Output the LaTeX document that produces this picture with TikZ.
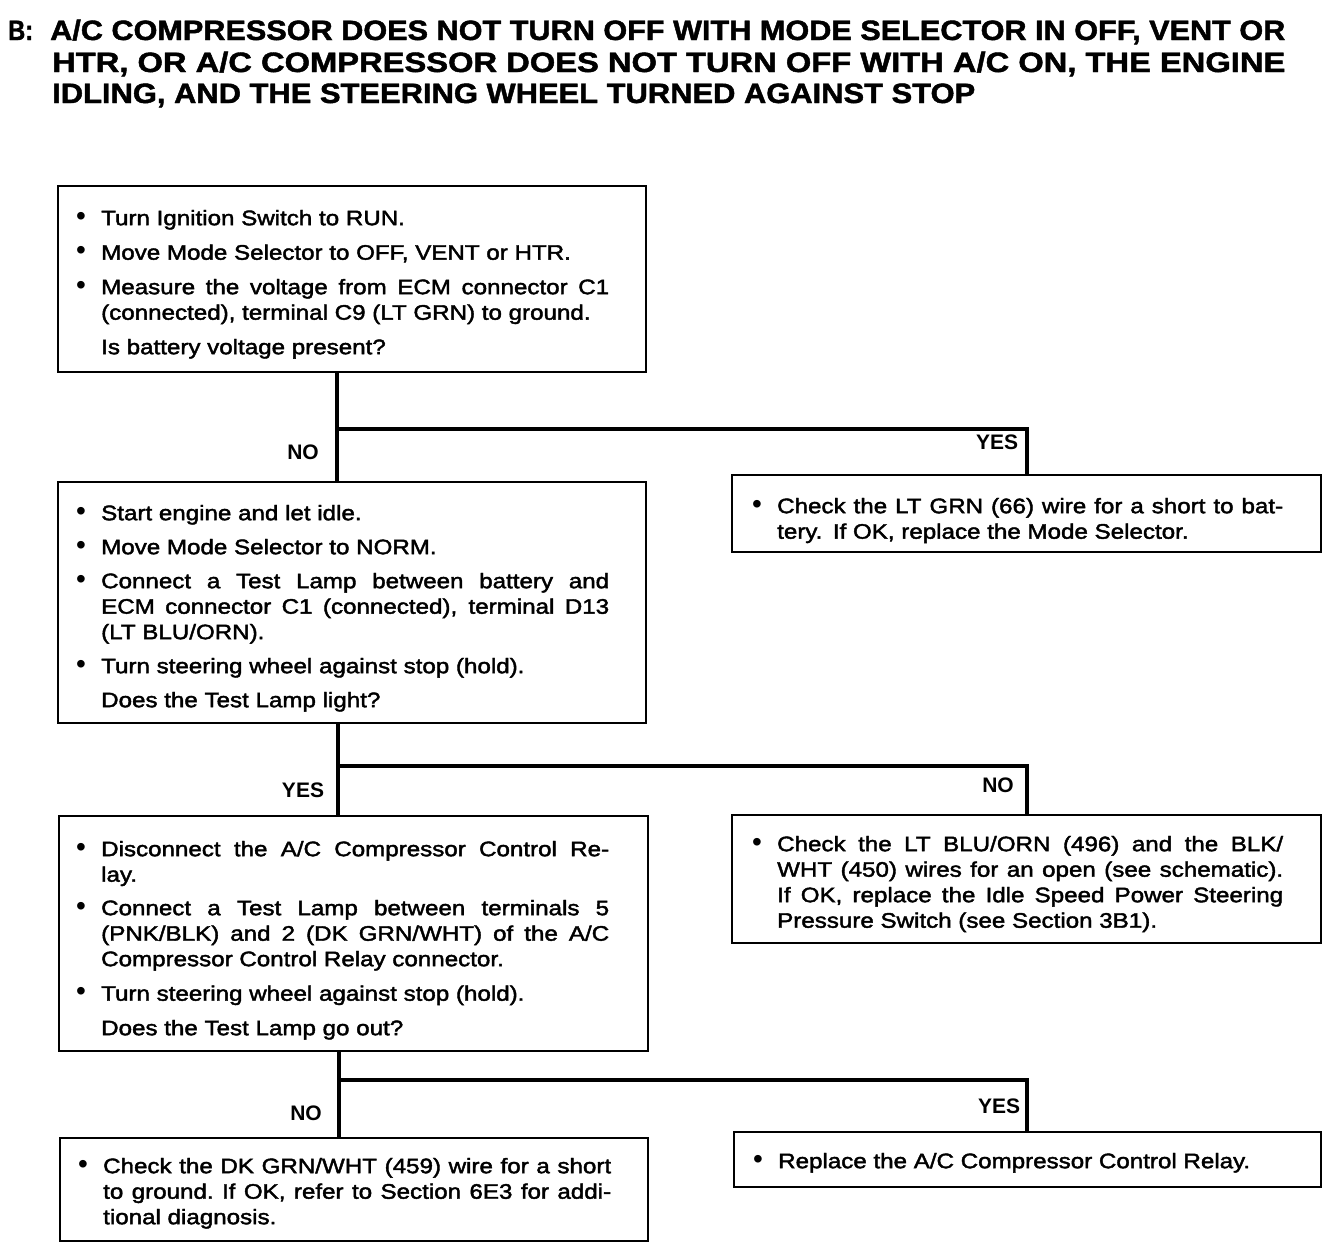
\documentclass[tikz,border=0pt]{standalone}
\usepackage{fontspec}
\usepackage{graphicx}
\setmainfont{Liberation Sans}
\newfontfamily\bodyfont{Liberation Sans}[FakeStretch=1.15,FakeBold=2]
\newfontfamily\titlefont{Liberation Sans Bold}[FakeBold=1.5]
\newfontfamily\labelfont{Liberation Sans Bold}
\newcommand\tline[2]{\resizebox{#1}{\height}{#2}}
\newcommand\bl{\rule{0pt}{16pt}\makebox[25pt][l]{{\normalfont\fontsize{28}{25}\selectfont\textbullet}}}
\newcommand\cl{\hspace*{25pt}}
\newcommand\jl[2]{\makebox[#1][s]{#2}}
\tikzset{
  titletext/.style={anchor=base west, inner sep=0pt, font=\titlefont\fontsize{28}{32}\selectfont},
  box/.style={draw, line width=2pt, anchor=north west, inner sep=0pt},
  txt/.style={anchor=north west, inner sep=0pt, align=left, font=\bodyfont\fontsize{21}{25.5}\selectfont},
  lbl/.style={inner sep=0pt, font=\labelfont\fontsize{21}{25}\selectfont},
  conn/.style={line width=4pt, line join=miter}
}
\begin{document}
\begin{tikzpicture}[x=1pt,y=-1pt]
\useasboundingbox (0,0) rectangle (1344,1250);
% title
\node[titletext] (tB) at (8,40) {\tline{25pt}{B:}};
\node[titletext] (tl1) at (50,40) {\tline{1235pt}{A/C COMPRESSOR DOES NOT TURN OFF WITH MODE SELECTOR IN OFF, VENT OR}};
\node[titletext] (tl2) at (52,72) {\tline{1233pt}{HTR, OR A/C COMPRESSOR DOES NOT TURN OFF WITH A/C ON, THE ENGINE}};
\node[titletext] (tl3) at (52,103) {\tline{923pt}{IDLING, AND THE STEERING WHEEL TURNED AGAINST STOP}};
% boxes
\node[box, minimum width=588pt, minimum height=186pt] (b1) at (57,185) {};
\node[box, minimum width=588pt, minimum height=241pt] (b2) at (57,481) {};
\node[box, minimum width=589pt, minimum height=77pt] (b3) at (731,474) {};
\node[box, minimum width=589pt, minimum height=128pt] (b4) at (731,814) {};
\node[box, minimum width=589pt, minimum height=235pt] (b5) at (58,815) {};
\node[box, minimum width=587pt, minimum height=55pt] (b6) at (733,1131) {};
\node[box, minimum width=588pt, minimum height=103pt] (b7) at (59,1137) {};
% texts
\node[txt] (x1) at (76,209) {%
\bl Turn Ignition Switch to RUN.\\[9pt]
\bl Move Mode Selector to OFF, VENT or HTR.\\[9pt]
\bl\jl{508pt}{Measure the voltage from ECM connector C1}\\
\cl (connected), terminal C9 (LT GRN) to ground.\\[9pt]
\cl Is battery voltage present?};
\node[txt] (x2) at (76,504) {%
\bl Start engine and let idle.\\[8.5pt]
\bl Move Mode Selector to NORM.\\[8.5pt]
\bl\jl{508pt}{Connect a Test Lamp between battery and}\\
\cl\jl{508pt}{ECM connector C1 (connected), terminal D13}\\
\cl (LT BLU/ORN).\\[8.5pt]
\bl Turn steering wheel against stop (hold).\\[8.5pt]
\cl Does the Test Lamp light?};
\node[txt] (x3) at (752,497) {%
\bl\jl{506pt}{Check the LT GRN (66) wire for a short to bat-}\\
\cl tery.\enspace If OK, replace the Mode Selector.};
\node[txt] (x4) at (752,835) {%
\bl\jl{506pt}{Check the LT BLU/ORN (496) and the BLK/}\\
\cl\jl{506pt}{WHT (450) wires for an open (see schematic).}\\
\cl\jl{506pt}{If OK, replace the Idle Speed Power Steering}\\
\cl Pressure Switch (see Section 3B1).};
\node[txt] (x5) at (76,840) {%
\bl\jl{508pt}{Disconnect the A/C Compressor Control Re-}\\
\cl lay.\\[8pt]
\bl\jl{508pt}{Connect a Test Lamp between terminals 5}\\
\cl\jl{508pt}{(PNK/BLK) and 2 (DK GRN/WHT) of the A/C}\\
\cl Compressor Control Relay connector.\\[9pt]
\bl Turn steering wheel against stop (hold).\\[9pt]
\cl Does the Test Lamp go out?};
\node[txt] (x6) at (753,1152) {%
\bl Replace the A/C Compressor Control Relay.};
\node[txt] (x7) at (78,1157) {%
\bl\jl{508pt}{Check the DK GRN/WHT (459) wire for a short}\\
\cl\jl{508pt}{to ground.\ If OK, refer to Section 6E3 for addi-}\\
\cl tional diagnosis.};
% junctions
\coordinate (j1) at (337,429);
\coordinate (k1) at (1027,429);
\coordinate (j2) at (338,766);
\coordinate (k2) at (1027,766);
\coordinate (j3) at (339,1080);
\coordinate (k3) at (1027,1080);
% connectors
\draw[conn] (b1.south -| j1) -- (b2.north -| j1);
\draw[conn] (j1) -- (k1) -- (k1 |- b3.north);
\draw[conn] (b2.south -| j2) -- (b5.north -| j2);
\draw[conn] (j2) -- (k2) -- (k2 |- b4.north);
\draw[conn] (b5.south -| j3) -- (b7.north -| j3);
\draw[conn] (j3) -- (k3) -- (k3 |- b6.north);
% labels
\node[lbl] (n1) at (303,452) {NO};
\node[lbl] (y1) at (997,442) {YES};
\node[lbl] (y2) at (303,790) {YES};
\node[lbl] (n2) at (998,785) {NO};
\node[lbl] (n3) at (306,1113) {NO};
\node[lbl] (y3) at (999,1106) {YES};
\end{tikzpicture}
\end{document}
